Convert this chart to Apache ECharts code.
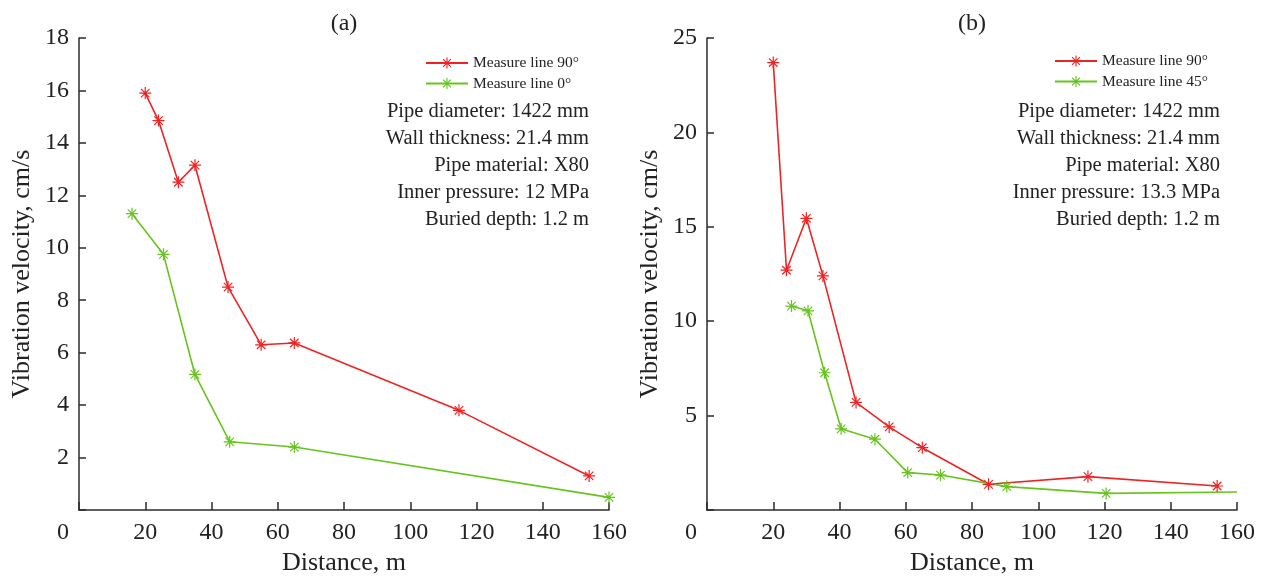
<!DOCTYPE html>
<html>
<head>
<meta charset="utf-8">
<script src="https://cdn.jsdelivr.net/npm/echarts@6/dist/echarts.min.js"></script>
<style>
html,body{margin:0;padding:0;background:#fff;}
#chart{width:1262px;height:578px;}
</style>
</head>
<body>
<div id="chart"></div>
<script>
// ---- data ----
const titlesText = ['(a)', '(b)'];
const xTicksMax = 160;
const xTickStep = 20;
const yMaxA = 18, yStepA = 2;
const yMaxB = 25, yStepB = 5;

const legendA = ['Measure line 90°', 'Measure line 0°'];
const legendB = ['Measure line 90°', 'Measure line 45°'];

const redA_x = [20, 24, 30, 35, 45, 55, 65, 114.7, 154];
const redA_y = [15.9, 14.85, 12.5, 13.15, 8.5, 6.3, 6.37, 3.8, 1.3];
const greenA_x = [16, 25.5, 35, 45.5, 65, 160];
const greenA_y = [11.3, 9.75, 5.17, 2.6, 2.4, 0.48];

const redB_x = [20, 24, 30, 35, 45, 55, 65, 85, 115, 154];
const redB_y = [23.7, 12.7, 15.45, 12.4, 5.7, 4.4, 3.3, 1.36, 1.77, 1.27];
const greenB_x = [25.5, 30.5, 35.5, 40.5, 50.7, 60.6, 70.5, 90.5, 120.5, 160];
const greenB_y = [10.8, 10.55, 7.27, 4.3, 3.75, 1.98, 1.85, 1.24, 0.88, 0.95];

const notesA = ['Pipe diameter: 1422 mm', 'Wall thickness: 21.4 mm', 'Pipe material: X80', 'Inner pressure: 12 MPa', 'Buried depth: 1.2 m'];
const notesB = ['Pipe diameter: 1422 mm', 'Wall thickness: 21.4 mm', 'Pipe material: X80', 'Inner pressure: 13.3 MPa', 'Buried depth: 1.2 m'];

const xName = 'Distance, m';
const yName = 'Vibration velocity, cm/s';

// ---- style ----
const FONT = "'Liberation Serif', 'Times New Roman', serif";
const RED = '#ee2424';
const GREEN = '#66c41c';
const AX = '#2b2b2b';
const STAR = 'path://M9,0L11,0L11,20L9,20ZM0,9L20,9L20,11L0,11ZM3.64,2.22L17.78,16.36L16.36,17.78L2.22,3.64ZM17.78,3.64L3.64,17.78L2.22,16.36L16.36,2.22Z';

function zip(xs, ys, lastNoSymbol) {
  return xs.map((x, i) => {
    if (lastNoSymbol && i === xs.length - 1) return {value: [x, ys[i]], symbol: 'none'};
    return [x, ys[i]];
  });
}

function xAxisCfg(gi) {
  return {
    gridIndex: gi, type: 'value', min: 0, max: xTicksMax, interval: xTickStep,
    name: xName, nameLocation: 'middle', nameGap: 40,
    nameTextStyle: {fontFamily: FONT, fontSize: 26, color: '#222'},
    axisLine: {show: true, lineStyle: {color: AX, width: 1.5}},
    axisTick: {show: true, inside: true, length: 8, lineStyle: {color: AX, width: 1.5}},
    axisLabel: {
      fontFamily: FONT, fontSize: 24, color: '#222', margin: 11,
      formatter: v => v === 0 ? '{z|0}' : String(v),
      rich: {z: {fontFamily: FONT, fontSize: 24, color: '#222', padding: [0, 32, 0, 0]}}
    },
    splitLine: {show: false}
  };
}
function yAxisCfg(gi, max, step) {
  return {
    gridIndex: gi, type: 'value', min: 0, max: max, interval: step,
    name: yName, nameLocation: 'middle', nameGap: 44, nameRotate: 90,
    nameTextStyle: {fontFamily: FONT, fontSize: 26, color: '#222'},
    axisLine: {show: true, lineStyle: {color: AX, width: 1.5}},
    axisTick: {show: true, inside: true, length: 7, lineStyle: {color: AX, width: 1.5}},
    axisLabel: {fontFamily: FONT, fontSize: 24, color: '#222', margin: 10,
      formatter: v => v === 0 ? '' : String(v)},
    splitLine: {show: false}
  };
}
function lineSeries(name, gi, data, color) {
  return {
    name: name, type: 'line', xAxisIndex: gi, yAxisIndex: gi, data: data,
    symbol: STAR, symbolSize: 12, showAllSymbol: true, clip: false,
    itemStyle: {color: color},
    lineStyle: {color: color, width: 1.6},
    emphasis: {disabled: true}, animation: false
  };
}
function notes(lines, xRight) {
  return lines.map((t, i) => ({
    type: 'text', x: xRight, y: 112 + i * 26.8,
    style: {text: t, fontFamily: FONT, fontSize: 20.5, fill: '#222', align: 'right', verticalAlign: 'middle'}
  }));
}

const chart = echarts.init(document.getElementById('chart'), null, {renderer: 'canvas'});
chart.setOption({
  animation: false,
  backgroundColor: '#fff',
  grid: [
    {left: 79, right: 653, top: 38, bottom: 68, containLabel: false, outerBoundsMode: 'none'},
    {left: 707, right: 25, top: 38, bottom: 68, containLabel: false, outerBoundsMode: 'none'}
  ],
  xAxis: [xAxisCfg(0), xAxisCfg(1)],
  yAxis: [yAxisCfg(0, yMaxA, yStepA), yAxisCfg(1, yMaxB, yStepB)],
  legend: [
    {data: legendA.slice(), orient: 'vertical', left: 425, top: 55, padding: 0, itemGap: 4.5,
     itemWidth: 42, itemHeight: 14, selectedMode: false,
     textStyle: {fontFamily: FONT, fontSize: 15.5, color: '#222', lineHeight: 14}},
    {data: legendB.map((n, i) => i === 0 ? n + ' ' : n), orient: 'vertical', left: 1054, top: 53, padding: 0, itemGap: 4.5,
     itemWidth: 42, itemHeight: 14, selectedMode: false,
     textStyle: {fontFamily: FONT, fontSize: 15.5, color: '#222', lineHeight: 14}}
  ],
  series: [
    lineSeries(legendA[0], 0, zip(redA_x, redA_y), RED),
    lineSeries(legendA[1], 0, zip(greenA_x, greenA_y), GREEN),
    lineSeries(legendB[0] + ' ', 1, zip(redB_x, redB_y), RED),
    lineSeries(legendB[1], 1, zip(greenB_x, greenB_y, true), GREEN)
  ],
  graphic: [
    {type: 'text', x: 344, y: 24, style: {text: titlesText[0], fontFamily: FONT, fontSize: 24, fill: '#222', align: 'center', verticalAlign: 'middle'}},
    {type: 'text', x: 972, y: 24, style: {text: titlesText[1], fontFamily: FONT, fontSize: 24, fill: '#222', align: 'center', verticalAlign: 'middle'}}
  ].concat(notes(notesA, 589)).concat(notes(notesB, 1220))
});
</script>
</body>
</html>
